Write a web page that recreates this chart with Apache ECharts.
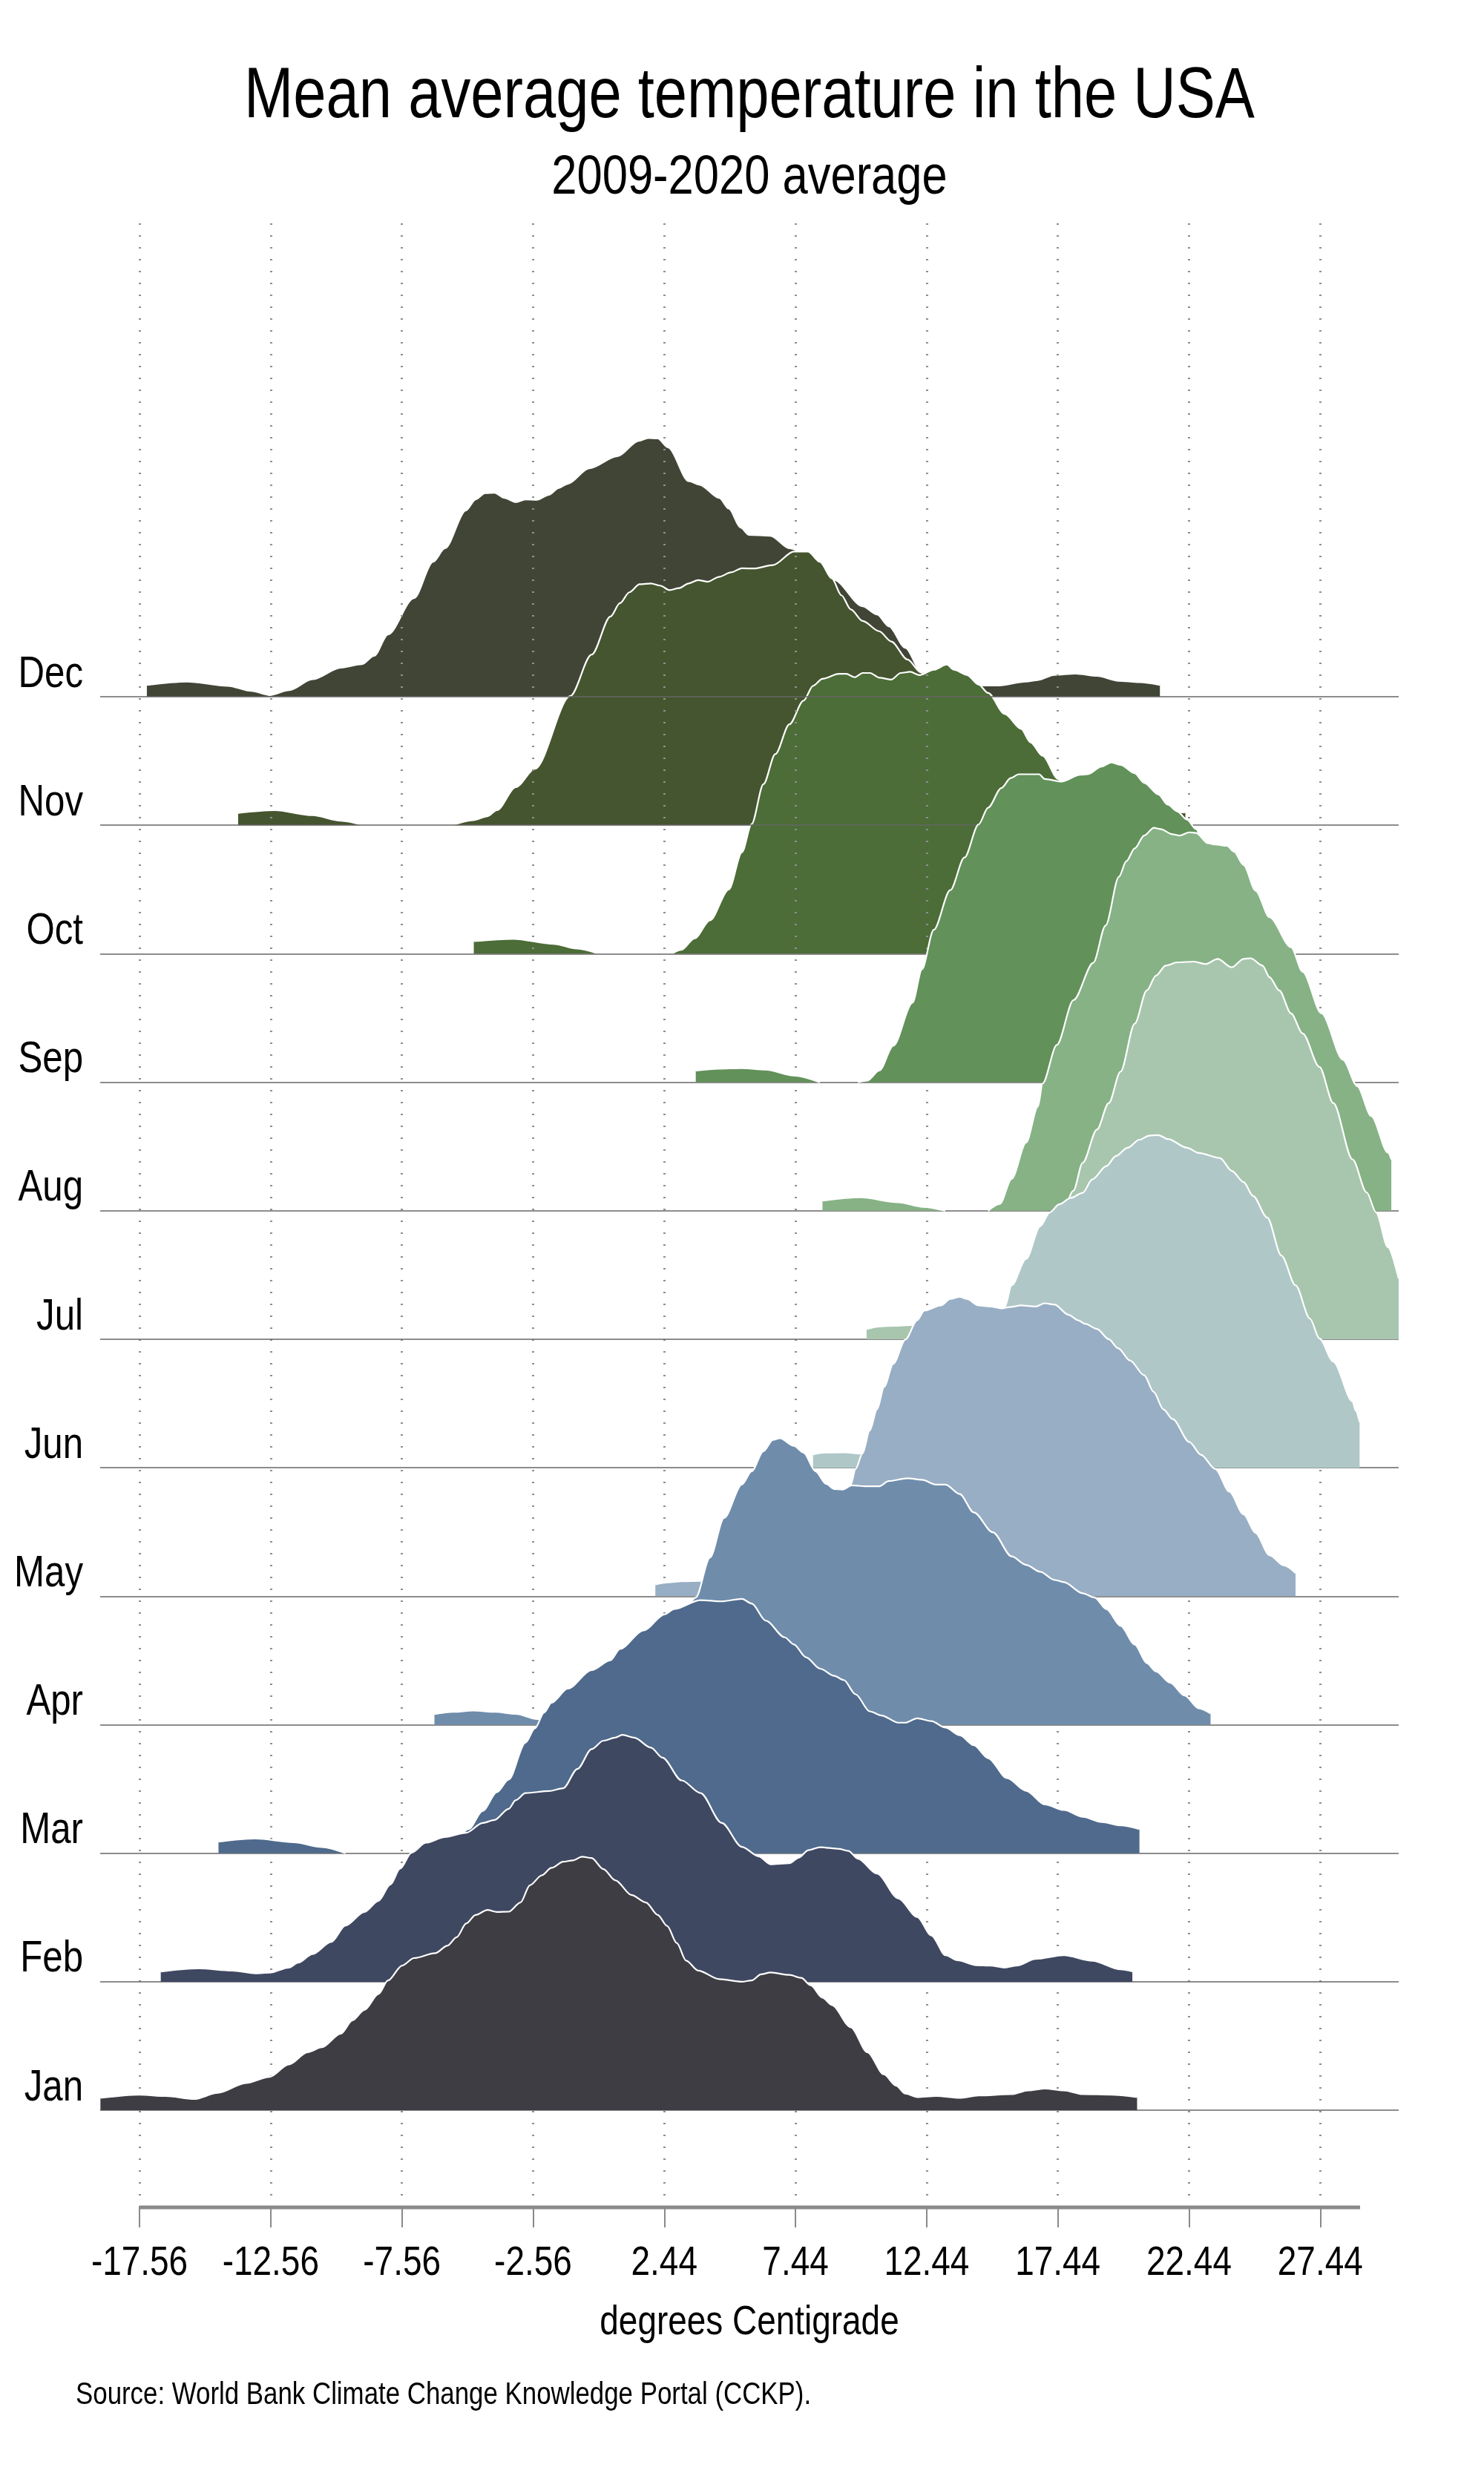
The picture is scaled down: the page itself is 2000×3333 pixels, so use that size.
<!DOCTYPE html>
<html>
<head>
<meta charset="utf-8">
<title>Mean average temperature in the USA</title>
<script src="https://cdn.jsdelivr.net/npm/echarts@6.0.0/dist/echarts.min.js"></script>
<style>
  html, body { margin: 0; padding: 0; background: #fff; }
  #chart { width: 2000px; height: 3333px; }
</style>
</head>
<body>
<div id="chart"></div>
<script>
// rows from bottom (Jan) to top (Dec)
const months = ["Jan", "Feb", "Mar", "Apr", "May", "Jun", "Jul", "Aug", "Sep", "Oct", "Nov", "Dec"];
const xTickLabels = ["-17.56", "-12.56", "-7.56", "-2.56", "2.44", "7.44", "12.44", "17.44", "22.44", "27.44"];
const titleText = "Mean average temperature in the USA";
const subtitleText = "2009-2020 average";
const xAxisTitle = "degrees Centigrade";
const sourceText = "Source: World Bank Climate Change Knowledge Portal (CCKP).";

// [temperature, ridge height in row units]; null breaks the curve
const jan = [[-19.05, 0.096], [-17.56, 0.121], [-16.57, 0.11], [-15.48, 0.087], [-14.58, 0.135], [-13.5, 0.212],
  [-12.6, 0.26], [-11.87, 0.356], [-11.15, 0.452], [-10.61, 0.49], [-9.89, 0.596], [-9.44, 0.7], [-8.99, 0.78],
  [-8.45, 0.905], [-8.09, 1.01], [-7.55, 1.126], [-7.1, 1.184], [-6.29, 1.222], [-5.83, 1.28], [-5.47, 1.347],
  [-5.11, 1.453], [-4.75, 1.52], [-4.3, 1.559], [-3.94, 1.543], [-3.49, 1.545], [-3.04, 1.617], [-2.68, 1.751],
  [-2.23, 1.828], [-1.86, 1.886], [-1.41, 1.934], [-1.05, 1.944], [-0.69, 1.973], [-0.33, 1.963], [0.12, 1.876],
  [0.57, 1.79], [1.2, 1.674], [1.74, 1.617], [2.19, 1.52], [2.55, 1.434], [2.92, 1.3], [3.27, 1.165], [3.73, 1.087],
  [4.54, 1.02], [5.4, 1.0], [5.77, 1.01], [6.13, 1.058], [6.49, 1.072], [7.21, 1.053], [7.66, 1.03], [8.02, 0.972],
  [8.47, 0.876], [8.83, 0.818], [9.55, 0.645], [10.18, 0.452], [10.81, 0.279], [11.27, 0.192], [11.63, 0.129],
  [12.08, 0.102], [12.8, 0.11], [13.7, 0.096], [14.42, 0.115], [15.68, 0.125], [16.31, 0.154], [16.95, 0.169],
  [17.67, 0.154], [18.39, 0.125], [19.47, 0.121], [20.46, 0.102]];

const feb = [[-16.75, 0.08], [-15.3, 0.104], [-14.04, 0.087], [-13.14, 0.065], [-12.6, 0.07], [-11.87, 0.11],
  [-11.51, 0.148], [-10.97, 0.215], [-10.25, 0.31], [-9.71, 0.437], [-8.99, 0.543], [-8.45, 0.63], [-8.0, 0.756],
  [-7.63, 0.88], [-7.19, 1.005], [-6.64, 1.082], [-5.92, 1.126], [-5.11, 1.159], [-4.48, 1.236], [-4.03, 1.259],
  [-3.49, 1.346], [-3.22, 1.413], [-2.85, 1.468], [-1.95, 1.484], [-1.41, 1.506], [-0.87, 1.656], [-0.33, 1.81],
  [0.12, 1.876], [0.57, 1.9], [0.84, 1.921], [1.29, 1.9], [1.93, 1.822], [2.37, 1.744], [3.1, 1.567], [3.82, 1.468],
  [4.63, 1.236], [5.4, 1.05], [6.03, 0.976], [6.49, 0.914], [7.21, 0.922], [7.57, 0.966], [7.93, 1.024],
  [8.38, 1.047], [9.1, 1.034], [9.46, 1.018], [9.82, 0.957], [10.55, 0.841], [11.36, 0.648], [12.08, 0.504],
  [12.62, 0.36], [13.16, 0.206], [13.61, 0.167], [14.33, 0.129], [14.87, 0.125], [15.41, 0.11], [15.87, 0.125],
  [16.59, 0.177], [17.67, 0.206], [18.75, 0.163], [19.83, 0.096], [20.28, 0.08]];

const mar = [[-14.55, 0.09], [-13.14, 0.114], [-11.69, 0.086], [-10.61, 0.048], [-9.71, 0], null,
  [-7.0, 0], [-6.5, 0.03], [-6.0, 0.07], [-5.5, 0.12], [-5.02, 0.188], [-4.48, 0.33], [-3.94, 0.475], [-3.49, 0.574],
  [-2.85, 0.861], [-2.49, 0.972], [-2.14, 1.094], [-1.86, 1.171], [-1.23, 1.282], [-0.33, 1.425], [0.39, 1.502],
  [0.75, 1.59], [1.65, 1.734], [2.46, 1.86], [2.82, 1.9], [3.82, 1.97], [4.63, 1.96], [5.4, 1.98], [5.77, 1.943],
  [6.31, 1.81], [7.03, 1.68], [7.38, 1.625], [7.84, 1.525], [8.38, 1.436], [8.92, 1.38], [9.28, 1.348], [9.73, 1.237],
  [10.27, 1.104], [10.72, 1.072], [11.36, 1.016], [11.63, 1.016], [12.08, 1.05], [12.62, 1.028], [13.16, 0.977],
  [13.7, 0.918], [14.24, 0.84], [14.78, 0.74], [15.5, 0.585], [16.23, 0.486], [16.94, 0.38], [17.67, 0.336],
  [18.39, 0.283], [19.11, 0.243], [19.83, 0.217], [20.55, 0.188]];

const apr = [[-6.32, 0.083], [-5.6, 0.1], [-4.84, 0.11], [-4.0, 0.1], [-3.22, 0.084], [-2.4, 0.044], [-1.8, 0.015],
  [-1.4, 0], null, [0.0, 0], [0.8, 0.1], [1.5, 0.3], [2.2, 0.5], [2.9, 0.75], [3.64, 0.99], [4.18, 1.3], [4.72, 1.61],
  [5.4, 1.87], [5.77, 1.973], [6.22, 2.128], [6.58, 2.217], [6.85, 2.23], [7.38, 2.17], [7.75, 2.117], [8.2, 1.973],
  [8.61, 1.874], [8.92, 1.834], [9.23, 1.83], [9.59, 1.863], [10.09, 1.856], [10.64, 1.856], [10.99, 1.896],
  [11.72, 1.918], [12.26, 1.906], [12.8, 1.869], [13.16, 1.869], [13.7, 1.795], [14.24, 1.652], [14.96, 1.498],
  [15.68, 1.31], [16.23, 1.244], [16.77, 1.19], [17.31, 1.127], [17.67, 1.11], [18.39, 1.023], [18.84, 0.99],
  [19.29, 0.9], [19.83, 0.77], [20.37, 0.625], [20.83, 0.48], [21.18, 0.415], [21.72, 0.327], [22.27, 0.227],
  [22.81, 0.128], [23.26, 0.088]];

const may = [[2.1, 0.092], [2.6, 0.108], [3.1, 0.116], [3.82, 0.12], [4.5, 0.1], [5.2, 0.06], [5.8, 0], null,
  [6.5, 0], [7.0, 0.1], [7.5, 0.25], [8.0, 0.4], [8.5, 0.55], [9.0, 0.65], [9.3, 0.75], [9.55, 0.87], [9.73, 0.99],
  [10.0, 1.113], [10.27, 1.29], [10.55, 1.455], [10.82, 1.63], [11.17, 1.81], [11.63, 1.998], [12.08, 2.148],
  [12.35, 2.223], [12.98, 2.263], [13.34, 2.313], [13.7, 2.33], [13.97, 2.313], [14.42, 2.263], [14.87, 2.255],
  [15.32, 2.24], [15.59, 2.25], [16.04, 2.263], [16.59, 2.255], [16.94, 2.28], [17.31, 2.27], [17.85, 2.19],
  [18.21, 2.148], [18.48, 2.12], [18.93, 2.08], [19.38, 2.0], [19.74, 1.93], [20.19, 1.835], [20.73, 1.72],
  [21.09, 1.59], [21.46, 1.455], [21.82, 1.378], [22.45, 1.2], [22.9, 1.1], [23.44, 0.99], [23.98, 0.814],
  [24.52, 0.637], [24.97, 0.494], [25.51, 0.318], [26.05, 0.24], [26.5, 0.18]];

const jun = [[8.11, 0.104], [8.6, 0.118], [9.3, 0.12], [9.9, 0.11], [10.5, 0.09], [11.0, 0.06], [11.6, 0], null,
  [12.5, 0], [13.0, 0.1], [13.5, 0.3], [14.0, 0.55], [14.5, 0.8], [15.0, 1.05], [15.42, 1.253], [15.68, 1.42],
  [16.23, 1.625], [16.77, 1.88], [17.13, 1.986], [17.49, 2.05], [17.94, 2.1], [18.39, 2.14], [18.75, 2.243],
  [19.29, 2.347], [19.65, 2.425], [20.1, 2.49], [20.55, 2.553], [20.92, 2.584], [21.27, 2.589], [21.64, 2.558],
  [22.36, 2.49], [22.81, 2.45], [23.62, 2.41], [24.07, 2.31], [24.52, 2.223], [24.88, 2.115], [25.42, 1.947],
  [25.96, 1.651], [26.5, 1.42], [27.05, 1.16], [27.41, 1.006], [27.94, 0.826], [28.67, 0.517], [28.79, 0.445],
  [28.94, 0.356]];

const jul = [[10.15, 0.08], [10.7, 0.1], [11.17, 0.105], [11.9, 0.11], [12.6, 0.09], [13.3, 0.05], [13.9, 0], null,
  [14.4, 0], [15.0, 0.1], [15.5, 0.2], [16.0, 0.35], [16.5, 0.5], [17.0, 0.72], [17.5, 0.9], [18.03, 1.155],
  [18.39, 1.374], [18.93, 1.632], [19.38, 1.838], [19.83, 2.083], [20.37, 2.456], [20.83, 2.714], [21.18, 2.83],
  [21.55, 2.908], [21.99, 2.933], [22.62, 2.939], [23.08, 2.92], [23.53, 2.96], [24.07, 2.894], [24.52, 2.96],
  [24.79, 2.965], [25.24, 2.908], [25.51, 2.817], [25.88, 2.714], [26.33, 2.535], [26.77, 2.38], [27.41, 2.12],
  [27.94, 1.838], [28.67, 1.4], [29.21, 1.143], [29.57, 0.987], [30.02, 0.716], [30.43, 0.472]];

const aug = [[8.47, 0.078], [9.91, 0.104], [11.36, 0.066], [12.3, 0.03], [13.15, 0], null,
  [14.78, 0], [15.23, 0.053], [15.68, 0.248], [16.23, 0.53], [16.68, 0.81], [16.86, 0.99], [17.4, 1.29],
  [18.04, 1.64], [18.79, 1.93], [19.26, 2.22], [19.77, 2.6], [20.05, 2.72], [20.37, 2.82], [20.73, 2.92],
  [21.1, 2.98], [21.35, 2.97], [21.81, 2.93], [22.08, 2.92], [22.45, 2.945], [22.71, 2.94], [23.16, 2.86],
  [23.44, 2.85], [23.89, 2.84], [24.15, 2.795], [24.52, 2.69], [24.98, 2.49], [25.51, 2.284], [26.33, 2.05],
  [26.77, 1.86], [27.49, 1.536], [28.31, 1.174], [28.85, 0.97], [29.39, 0.736], [30.02, 0.452], [30.15, 0.4]];

const sep = [[3.64, 0.09], [4.5, 0.105], [5.4, 0.11], [6.31, 0.098], [7.38, 0.052], [8.37, 0], null,
  [9.82, 0], [10.18, 0.013], [10.64, 0.092], [11.17, 0.284], [11.9, 0.619], [12.26, 0.878], [12.71, 1.186],
  [13.34, 1.495], [13.88, 1.749], [14.42, 2.006], [14.78, 2.136], [15.29, 2.29], [15.64, 2.367], [15.95, 2.397],
  [16.73, 2.397], [16.94, 2.36], [17.58, 2.34], [18.3, 2.393], [18.57, 2.397], [19.11, 2.457], [19.47, 2.488],
  [19.83, 2.47], [20.37, 2.405], [20.73, 2.33], [21.27, 2.24], [21.63, 2.16], [21.99, 2.108], [22.36, 2.044],
  [22.71, 1.97], [23.0, 1.85], [24.0, 1.5], [25.0, 1.1], [26.0, 0.75], [27.0, 0.45], [28.0, 0.2], [28.3, 0.1]];

const oct = [[-4.82, 0.098], [-3.31, 0.116], [-1.78, 0.077], [-0.9, 0.04], [-0.06, 0], null,
  [2.73, 0], [3.09, 0.03], [3.6, 0.12], [4.18, 0.26], [4.9, 0.5], [5.4, 0.79], [5.77, 1.01], [6.22, 1.32],
  [6.67, 1.553], [7.21, 1.786], [7.75, 1.97], [8.11, 2.085], [8.47, 2.14], [9.1, 2.178], [9.37, 2.178], [9.7, 2.152],
  [10.0, 2.185], [10.28, 2.185], [10.64, 2.148], [11.09, 2.134], [11.45, 2.185], [11.81, 2.194], [12.17, 2.168],
  [12.71, 2.21], [13.21, 2.25], [13.48, 2.21], [13.97, 2.17], [14.42, 2.095], [14.78, 2.03], [15.42, 1.865],
  [16.04, 1.75], [16.4, 1.645], [16.86, 1.54], [17.45, 1.36], [18.0, 1.15], [19.0, 0.8], [20.0, 0.5], [21.0, 0.3],
  [22.0, 0.15], [23.0, 0.1], [24.0, 0.08]];

const nov = [[-13.8, 0.096], [-12.41, 0.117], [-10.97, 0.078], [-9.89, 0.035], [-9.02, 0], null,
  [-5.65, 0], [-4.84, 0.04], [-4.3, 0.07], [-3.94, 0.117], [-3.22, 0.297], [-2.49, 0.439], [-1.14, 1.006],
  [-0.33, 1.328], [0.39, 1.625], [0.75, 1.728], [1.11, 1.813], [1.5, 1.876], [1.93, 1.882], [2.28, 1.865],
  [2.64, 1.83], [3.0, 1.845], [3.37, 1.882], [3.73, 1.908], [4.09, 1.895], [4.54, 1.934], [4.98, 1.968], [5.4, 2.0],
  [5.86, 1.998], [6.58, 2.025], [7.38, 2.13], [7.92, 2.13], [8.37, 2.05], [8.83, 1.92], [9.19, 1.79], [9.55, 1.68],
  [10.0, 1.59], [10.63, 1.51], [11.09, 1.43], [11.71, 1.29], [12.22, 1.19], [13.0, 0.85], [13.5, 0.6], [14.0, 0.4],
  [15.0, 0.2], [16.0, 0.12], [17.5, 0.1], [19.0, 0.11], [20.5, 0.1], [22.3, 0.1]];

const dec = [[-17.28, 0.092], [-15.75, 0.118], [-14.2, 0.085], [-13.3, 0.045], [-12.6, 0.013], [-11.85, 0.052],
  [-10.97, 0.136], [-9.89, 0.226], [-9.08, 0.254], [-8.62, 0.318], [-8.09, 0.485], [-7.1, 0.768], [-6.37, 1.05],
  [-5.92, 1.155], [-5.12, 1.45], [-4.75, 1.536], [-4.39, 1.585], [-4.03, 1.588], [-3.67, 1.549], [-3.22, 1.515],
  [-2.85, 1.536], [-2.4, 1.533], [-1.95, 1.572], [-1.59, 1.624], [-1.24, 1.657], [-0.42, 1.778], [0.65, 1.871],
  [1.47, 1.992], [1.83, 2.013], [2.19, 2.01], [2.59, 1.94], [3.37, 1.678], [3.78, 1.65], [4.54, 1.547], [4.9, 1.464],
  [5.35, 1.316], [5.67, 1.26], [6.48, 1.253], [7.21, 1.155], [8.91, 0.909], [10.0, 0.704], [10.55, 0.64],
  [11.0, 0.548], [11.63, 0.381], [12.23, 0.196], [13.0, 0.14], [14.0, 0.1], [14.68, 0.087], [15.13, 0.087],
  [16.22, 0.118], [16.67, 0.13], [17.31, 0.17], [18.12, 0.18], [18.93, 0.162], [19.75, 0.124], [20.55, 0.113],
  [21.33, 0.092]];

const curves = [jan, feb, mar, apr, may, jun, jul, aug, sep, oct, nov, dec];
const fills = ["#3e3d43", "#3f4861", "#4f6a8c", "#6f8cab", "#98aec4", "#b0c7c8",
  "#a8c6ae", "#86b286", "#62915a", "#4c6d37", "#45552f", "#414536"];

// no narrow font is installed: draw Liberation Sans squeezed horizontally
const FONT = "'Liberation Sans', Arial, sans-serif";
const NARROW = 0.82;
const xTicks = xTickLabels.map(Number);
const xMin = -19.06, xMax = 30.43;
const yMin = -0.756, yMax = 14.69;
const axisEnd = 28.96;

const chart = echarts.init(document.getElementById("chart"));

// Dec sits at the back, Jan at the front; a rising z keeps each outline above the rows behind it only
const ridges = [];
for (let i = months.length - 1; i >= 0; i--) {
  ridges.push({
    name: months[i],
    type: "line",
    z: 2 + (months.length - 1 - i),
    silent: true,
    showSymbol: false,
    smooth: 0.3,
    smoothMonotone: "x",
    connectNulls: false,
    data: curves[i].map((p) => (p === null ? ["-", "-"] : [p[0], i + p[1]])),
    lineStyle: { color: "#ffffff", width: 2.2 },
    itemStyle: { color: fills[i] },
    areaStyle: { color: fills[i], opacity: 1, origin: i },
  });
}

chart.setOption({
  animation: false,
  backgroundColor: "#ffffff",
  grid: { left: 135, right: 115, top: 300, bottom: 358, outerBoundsMode: "none" },
  xAxis: {
    type: "value",
    min: xMin,
    max: xMax,
    axisLine: { show: false, onZero: false },
    splitLine: { show: false },
    axisTick: { show: true, customValues: xTicks, length: 27, lineStyle: { color: "#8a8a8a", width: 2 } },
    axisLabel: { show: false },
  },
  yAxis: {
    type: "value",
    min: yMin,
    max: yMax,
    axisLine: { show: false, onZero: false },
    axisTick: { show: false },
    splitLine: { show: false },
    axisLabel: { show: false },
  },
  series: [
    {
      // dotted vertical grid and the baseline of each row, behind the ridges
      type: "line",
      z: 1,
      silent: true,
      data: [],
      markLine: {
        silent: true,
        symbol: "none",
        animation: false,
        label: { show: false },
        emphasis: { disabled: true },
        data: [
          ...xTicks.map((v) => ({ xAxis: v, lineStyle: { color: "#8f8f8f", width: 3, type: [2, 14] } })),
          ...months.map((m, i) => ({ yAxis: i, lineStyle: { color: "#666666", width: 1.5, type: "solid" } })),
        ],
      },
    },
    ...ridges,
    {
      // visible part of the x axis line
      type: "line",
      z: 30,
      silent: true,
      clip: false,
      showSymbol: false,
      data: [[xTicks[0], yMin], [axisEnd, yMin]],
      lineStyle: { color: "#8a8a8a", width: 5 },
    },
  ],
});

// texts, placed from the axis scales
const pxX = (v) => chart.convertToPixel({ xAxisIndex: 0 }, v);
const pxY = (v) => chart.convertToPixel({ yAxisIndex: 0 }, v);
const axisY = pxY(yMin);
const midX = pxX((xMin + xMax) / 2);

function label(text, x, y, size, align, verticalAlign) {
  return {
    type: "text",
    x: x,
    y: y,
    scaleX: NARROW,
    z: 100,
    silent: true,
    style: { text: text, fontFamily: FONT, fontSize: size, fill: "#000000", align: align, verticalAlign: verticalAlign },
  };
}

chart.setOption({
  graphic: [
    label(titleText, midX, 83, 97, "center", "top"),
    label(subtitleText, midX, 203, 75, "center", "top"),
    ...xTicks.map((v, k) => label(xTickLabels[k], pxX(v), axisY + 48, 56, "center", "top")),
    ...months.map((m, i) => label(m, pxX(xMin) - 23, pxY(i), 60, "right", "bottom")),
    label(xAxisTitle, midX, axisY + 128, 56, "center", "top"),
    label(sourceText, 102, 3207, 42.5, "left", "top"),
  ],
});
</script>
</body>
</html>
